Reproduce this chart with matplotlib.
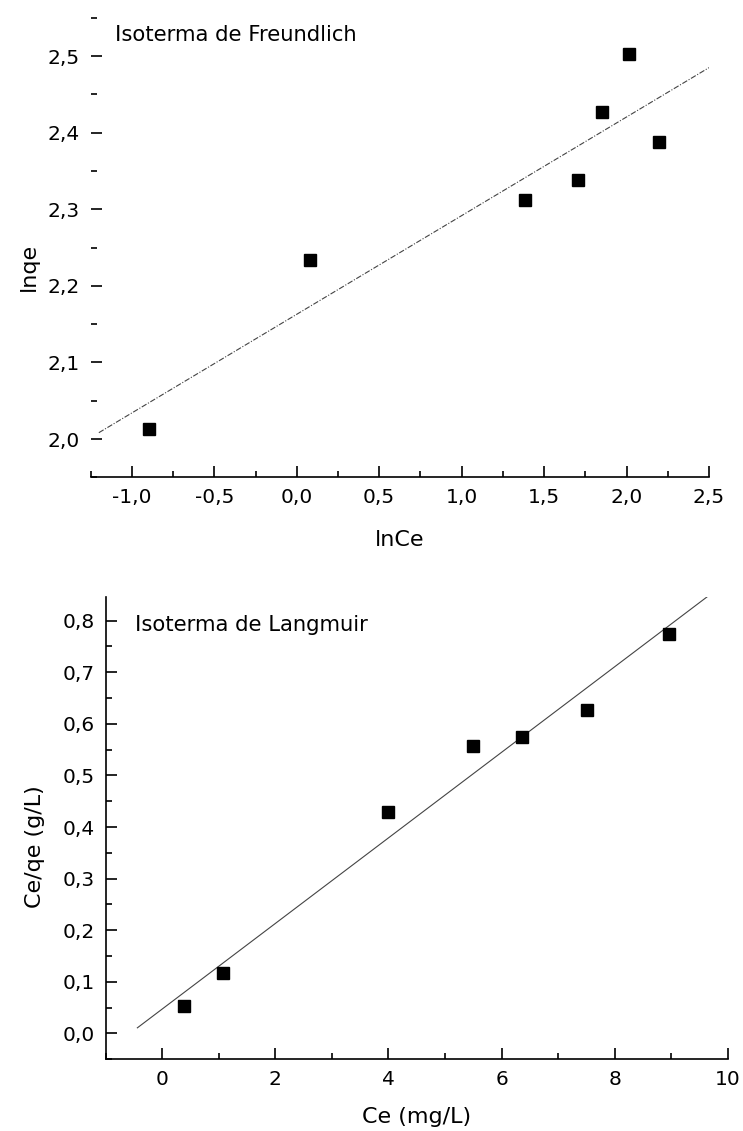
import numpy as np
import matplotlib
matplotlib.use("Agg")
import matplotlib.pyplot as plt
from matplotlib.ticker import MultipleLocator, FuncFormatter

plt.rcParams['font.family'] = ['DejaVu Sans']

# Freundlich data
ln_ce = [-0.896, 0.081, 1.384, 1.706, 1.853, 2.015, 2.198]
ln_qe = [2.013, 2.234, 2.312, 2.338, 2.427, 2.502, 2.388]
# Langmuir data
ce = [0.39, 1.07, 4.00, 5.49, 6.37, 7.51, 8.96]
ce_qe = [0.053, 0.118, 0.429, 0.556, 0.575, 0.627, 0.774]

fr_fit_range = [-1.2, 2.5]
la_fit_range = [-0.44, 9.66]

def comma1(v, pos):
    return f"{v:.1f}".replace('.', ',')

def intfmt(v, pos):
    return f"{v:.0f}"

fig = plt.figure(figsize=(7.43, 11.31), dpi=100)
W, H = 743, 1131

def ax_at(l, r, t, b):
    return fig.add_axes([l / W, 1 - b / H, (r - l) / W, (b - t) / H])

fs_tick = 14.5
fs_label = 16.0
fs_title = 15.2

# ---- Top: Freundlich ----
ax1 = ax_at(90.6, 709, 13.9, 477.3)
ax1.set_xlim(-1.25, 2.5)
ax1.set_ylim(1.95, 2.555)
p1 = np.polyfit(ln_ce, ln_qe, 1)
xf = np.array(fr_fit_range)
ax1.plot(xf, np.polyval(p1, xf), color='#444444', lw=0.8,
         linestyle=(0, (5, 1.5, 1, 1.5)))
ax1.plot(ln_ce, ln_qe, 's', color='black', markersize=9.2)
for s in ['top', 'right', 'left']:
    ax1.spines[s].set_visible(False)
ax1.spines['bottom'].set_linewidth(1.2)
ax1.xaxis.set_major_locator(MultipleLocator(0.5))
ax1.xaxis.set_minor_locator(MultipleLocator(0.25))
ax1.yaxis.set_major_locator(MultipleLocator(0.1))
ax1.yaxis.set_minor_locator(MultipleLocator(0.05))
ax1.xaxis.set_major_formatter(FuncFormatter(comma1))
ax1.yaxis.set_major_formatter(FuncFormatter(comma1))
ax1.tick_params(which='both', direction='in', labelsize=fs_tick, width=1.2, pad=8)
ax1.tick_params(which='major', length=8)
ax1.tick_params(which='minor', length=4.5)
ax1.set_xlabel('lnCe', fontsize=fs_label)
ax1.set_ylabel('lnqe', fontsize=fs_label)
ax1.xaxis.set_label_coords(0.5, -0.114)
ax1.yaxis.set_label_coords(-0.083, 0.455)
ax1.text(0.039, 0.942, 'Isoterma de Freundlich', transform=ax1.transAxes,
         fontsize=fs_title, ha='left', va='baseline')

# ---- Bottom: Langmuir ----
ax2 = ax_at(105.7, 727.7, 597.3, 1059.3)
ax2.set_xlim(-1, 10)
ax2.set_ylim(-0.05, 0.845)
p2 = np.polyfit(ce, ce_qe, 1)
xl = np.array(la_fit_range)
ax2.plot(xl, np.polyval(p2, xl), color='#444444', lw=0.8)
ax2.plot(ce, ce_qe, 's', color='black', markersize=9.2)
for s in ['top', 'right']:
    ax2.spines[s].set_visible(False)
ax2.spines['bottom'].set_linewidth(1.2)
ax2.spines['left'].set_linewidth(1.2)
ax2.xaxis.set_major_locator(MultipleLocator(2))
ax2.xaxis.set_minor_locator(MultipleLocator(1))
ax2.yaxis.set_major_locator(MultipleLocator(0.1))
ax2.yaxis.set_minor_locator(MultipleLocator(0.05))
ax2.xaxis.set_major_formatter(FuncFormatter(intfmt))
ax2.yaxis.set_major_formatter(FuncFormatter(comma1))
ax2.tick_params(which='both', direction='in', labelsize=fs_tick, width=1.2, pad=8)
ax2.tick_params(which='major', length=8)
ax2.tick_params(which='minor', length=4.5)
ax2.set_xlabel('Ce (mg/L)', fontsize=fs_label)
ax2.set_ylabel('Ce/qe (g/L)', fontsize=fs_label)
ax2.xaxis.set_label_coords(0.5, -0.103)
ax2.yaxis.set_label_coords(-0.098, 0.46)
ax2.text(0.047, 0.927, 'Isoterma de Langmuir', transform=ax2.transAxes,
         fontsize=fs_title, ha='left', va='baseline')

fig.savefig('out.png', dpi=100)
